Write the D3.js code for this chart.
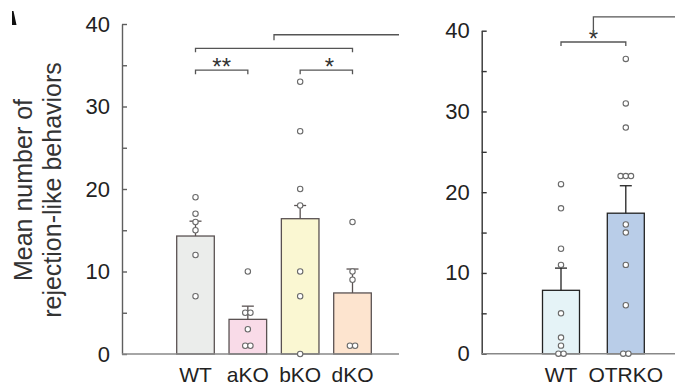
<!DOCTYPE html>
<html>
<head>
<meta charset="utf-8">
<script src="https://cdn.jsdelivr.net/npm/d3@7"></script>
<style>
  body { margin: 0; background: #fff; }
  svg { display: block; font-family: "Liberation Sans", Arial, sans-serif; }
</style>
</head>
<body>
<script>
var width = 675,
    height = 386;

// left panel
var leftCats = ["WT", "aKO", "bKO", "dKO"];
var leftMeans = [14.3, 4.2, 16.4, 7.4];
var leftSem = [1.8, 1.6, 1.6, 2.9];
var leftPoints = [
  [19, 17, 16, 15, 12, 7],
  [10, 5, 5, 3, 1, 1],
  [33, 27, 20, 18, 10, 7, 0],
  [16, 10, 9, 1, 1]
];
var leftColors = ["#ebedeb", "#f9dbe8", "#faf7d2", "#fde4cf"];

// right panel
var rightCats = ["WT", "OTRKO"];
var rightMeans = [7.85, 17.4];
var rightSem = [2.75, 3.4];
var rightPoints = [
  [21, 18, 13, 11, 5, 2, 1, 0, 0],
  [36.5, 31, 28, 22, 22, 22, 16, 15, 11, 6, 0, 0]
];
var rightColors = ["#e5f3f7", "#b9cde8"];

var yTicks = [0, 5, 10, 15, 20, 25, 30, 35, 40];

var svg = d3.select("body").append("svg")
    .attr("width", width)
    .attr("height", height);

// small panel letter remnant in the corner
svg.append("path")
    .attr("d", "M12,11 L13.5,11 L16.5,25 L12,25 Z")
    .style("fill", "#111");

function panel(opt) {
  var x = d3.scalePoint().domain(opt.cats).range(opt.xRange);
  var y = d3.scaleLinear().domain([0, 40]).range(opt.yRange);
  var g = svg.append("g");
  var bw = opt.barWidth;

  // y axis, inward ticks, labels every 10
  var ax = g.append("g")
      .attr("transform", "translate(" + opt.axisX + ",0)")
      .call(d3.axisLeft(y)
        .tickValues(yTicks)
        .tickSizeInner(-5)
        .tickSizeOuter(0)
        .tickPadding(12)
        .tickFormat(function(d) { return d % 10 === 0 ? d : ""; }));
  ax.select(".domain").style("stroke", opt.axisColor).style("stroke-width", 1.4);
  ax.selectAll(".tick line").style("stroke", opt.axisColor).style("stroke-width", 1.4);
  ax.selectAll(".tick text")
      .style("font-size", "22px")
      .style("fill", "#222")
      .style("font-family", "'Liberation Sans', Arial, sans-serif");

  // bars
  g.selectAll(".bar")
      .data(opt.means)
    .enter().append("rect")
      .attr("class", "bar")
      .attr("x", function(d, i) { return x(opt.cats[i]) - bw / 2; })
      .attr("y", function(d) { return y(d); })
      .attr("width", bw)
      .attr("height", function(d) { return y(0) - y(d); })
      .style("fill", function(d, i) { return opt.colors[i]; })
      .style("stroke", opt.barStroke)
      .style("stroke-width", 1.3);

  // x baseline
  g.append("line")
      .attr("x1", opt.axisX).attr("x2", opt.baseEnd)
      .attr("y1", y(0)).attr("y2", y(0))
      .style("stroke", "#888")
      .style("stroke-width", 1.6);

  // error bars
  var eb = g.selectAll(".err")
      .data(opt.means)
    .enter().append("g")
      .attr("class", "err");
  eb.append("line")
      .attr("x1", function(d, i) { return x(opt.cats[i]); })
      .attr("x2", function(d, i) { return x(opt.cats[i]); })
      .attr("y1", function(d) { return y(d); })
      .attr("y2", function(d, i) { return y(d + opt.sem[i]); })
      .style("stroke", opt.barStroke).style("stroke-width", 1.3);
  eb.append("line")
      .attr("x1", function(d, i) { return x(opt.cats[i]) - 6; })
      .attr("x2", function(d, i) { return x(opt.cats[i]) + 6; })
      .attr("y1", function(d, i) { return y(d + opt.sem[i]); })
      .attr("y2", function(d, i) { return y(d + opt.sem[i]); })
      .style("stroke", opt.barStroke).style("stroke-width", 1.3);

  // individual points, duplicates placed side by side
  var pts = [];
  opt.points.forEach(function(arr, i) {
    var counts = d3.rollup(arr, function(v) { return v.length; }, function(v) { return v; });
    var seen = new Map();
    arr.forEach(function(v) {
      var n = counts.get(v), k = seen.get(v) || 0;
      seen.set(v, k + 1);
      pts.push({cat: opt.cats[i], v: v, off: (k - (n - 1) / 2) * 5.2});
    });
  });
  g.selectAll(".pt")
      .data(pts)
    .enter().append("circle")
      .attr("class", "pt")
      .attr("cx", function(d) { return x(d.cat) + d.off; })
      .attr("cy", function(d) { return y(d.v); })
      .attr("r", 2.7)
      .style("fill", "#fff")
      .style("stroke", "#6a6a6a")
      .style("stroke-width", 1.1);

  // category labels
  g.selectAll(".cat")
      .data(opt.cats)
    .enter().append("text")
      .attr("class", "cat")
      .attr("x", function(d) { return x(d); })
      .attr("y", 382)
      .attr("text-anchor", "middle")
      .style("font-size", "21px")
      .style("fill", "#222")
      .text(function(d) { return d; });

  // significance brackets
  opt.sig.forEach(function(s) {
    var x1 = x(s.a), x2 = x(s.b), yy = y(s.y);
    g.append("path")
        .attr("d", "M" + x1 + "," + (yy + 4) + "V" + yy + "H" + x2 + "V" + (yy + 4))
        .style("fill", "none")
        .style("stroke", "#555")
        .style("stroke-width", 1.3);
    if (s.label) {
      g.append("text")
          .attr("x", (x1 + x2) / 2 + (s.dx || 0))
          .attr("y", yy + 5)
          .attr("text-anchor", "middle")
          .style("font-size", "24px")
          .style("fill", "#333")
          .text(s.label);
    }
    if (s.link) {
      var xm = (x1 + x2) / 2, yl = y(s.link);
      g.append("path")
          .attr("d", "M" + xm + "," + (yy - 8) + "V" + yl + "H" + s.linkEnd)
          .style("fill", "none")
          .style("stroke", "#555")
          .style("stroke-width", 1.3);
    }
  });

  return {x: x, y: y};
}

panel({
  cats: leftCats, means: leftMeans, sem: leftSem, points: leftPoints, colors: leftColors,
  xRange: [195.5, 352.5], yRange: [354, 24], barWidth: 37.6,
  axisX: 122, baseEnd: 399, axisColor: "#5f5f5f", barStroke: "#5a5252",
  sig: [
    {a: "WT", b: "aKO", y: 34.4, label: "**"},
    {a: "bKO", b: "dKO", y: 34.4, label: "*", dx: 3},
    {a: "WT", b: "dKO", y: 37.05, label: null, link: 38.7, linkEnd: 399}
  ]
});

panel({
  cats: rightCats, means: rightMeans, sem: rightSem, points: rightPoints, colors: rightColors,
  xRange: [561, 625.8], yRange: [353.7, 30.7], barWidth: 37,
  axisX: 481.7, baseEnd: 675, axisColor: "#333", barStroke: "#222",
  sig: [
    {a: "WT", b: "OTRKO", y: 38.6, label: "*", link: 41.7, linkEnd: 675}
  ]
});

// y axis title
var title = svg.append("g").style("font-size", "25px").style("fill", "#333");
title.append("text")
    .attr("transform", "translate(32,190) rotate(-90)")
    .attr("text-anchor", "middle")
    .text("Mean number of");
title.append("text")
    .attr("transform", "translate(61,190) rotate(-90)")
    .attr("text-anchor", "middle")
    .text("rejection-like behaviors");
</script>
</body>
</html>
